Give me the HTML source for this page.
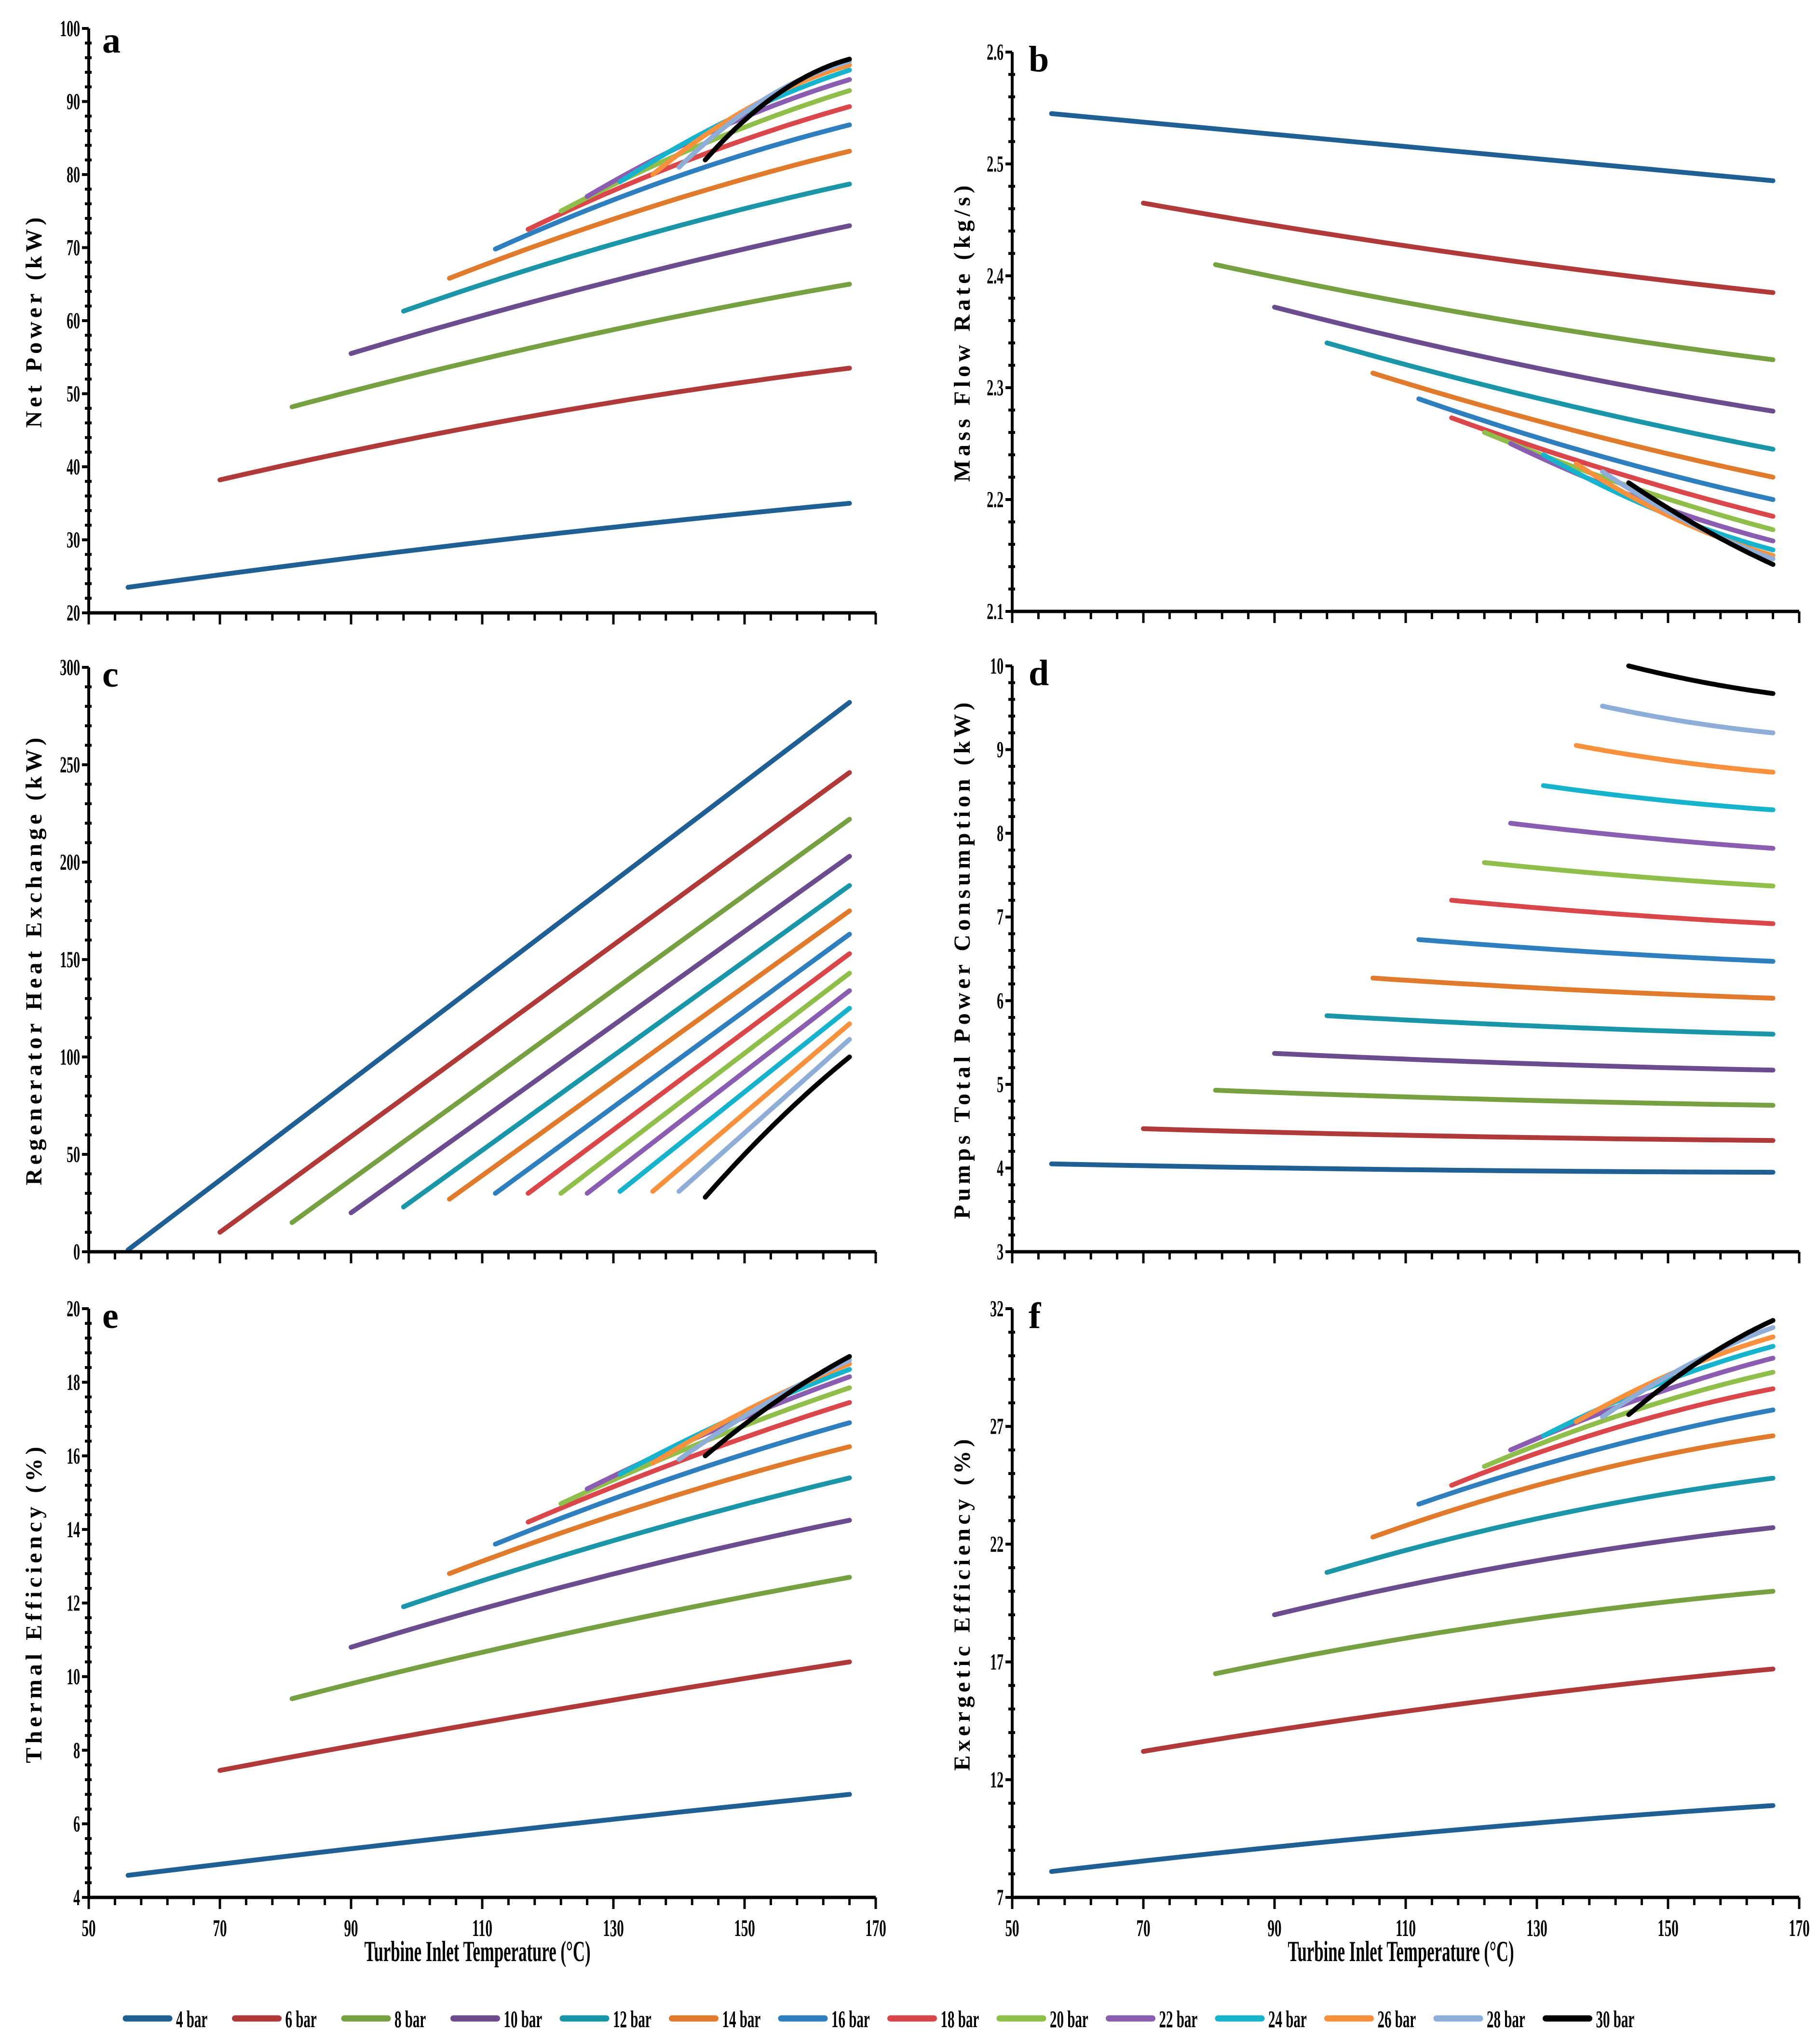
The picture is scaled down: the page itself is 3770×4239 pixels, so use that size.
<!DOCTYPE html>
<html><head><meta charset="utf-8">
<style>
html,body{margin:0;padding:0;background:#fff;}
svg{display:block;}
</style></head>
<body>
<svg id="fig" width="3770" height="4239" viewBox="0 0 3770 4239" xmlns="http://www.w3.org/2000/svg" font-family="'Liberation Serif', serif">
<rect x="0" y="0" width="3770" height="4239" fill="#fff"/>
</svg>
<script>
// ---- shared data ----
const pressures = ["4 bar","6 bar","8 bar","10 bar","12 bar","14 bar","16 bar","18 bar","20 bar","22 bar","24 bar","26 bar","28 bar","30 bar"];
const colors = ["#1f5f94","#b03a3a","#77a043","#6b4d8f","#1b96a8","#e07b2e","#2f7fbf","#d9474a","#8fbf4a","#8a5db0","#17b3cc","#f7913d","#8eaed8","#000000"];
const startT = [56,70,81,90,98,105,112,117,122,126,131,136,140,144];
const endT = 166;
const xTicks = [50,70,90,110,130,150,170];
// values: start, mid, end per pressure
const netPowerStart = [23.5,38.2,48.2,55.5,61.3,65.8,69.8,72.5,75,77,79,80,81,82];
const netPowerMid   = [29.8,47,57.5,65,71,75.5,79.5,82,84.3,86.3,87.9,89.3,90.3,91];
const netPowerEnd   = [35,53.5,65,73,78.7,83.2,86.8,89.3,91.5,93,94.3,95,95.5,95.8];
const flowStart = [2.545,2.465,2.41,2.372,2.34,2.313,2.29,2.273,2.26,2.25,2.24,2.232,2.225,2.215];
const flowMid   = [2.515,2.42,2.362,2.32,2.288,2.262,2.24,2.225,2.212,2.2,2.19,2.183,2.18,2.175];
const flowEnd   = [2.485,2.385,2.325,2.279,2.245,2.22,2.2,2.185,2.173,2.163,2.155,2.15,2.147,2.142];
const regenStart = [1,10,15,20,23,27,30,30,30,30,31,31,31,28];
const regenMid   = [141.5,128,118.5,111.5,105.5,101,96.5,91.5,86.5,82,78,74,70,67];
const regenEnd   = [282,246,222,203,188,175,163,153,143,134,125,117,109,100];
const pumpStart = [4.05,4.47,4.93,5.37,5.82,6.27,6.73,7.2,7.65,8.12,8.57,9.05,9.52,10];
const pumpMid   = [3.98,4.38,4.82,5.25,5.69,6.13,6.58,7.04,7.49,7.95,8.40,8.86,9.33,9.81];
const pumpEnd   = [3.95,4.33,4.75,5.17,5.6,6.03,6.47,6.92,7.37,7.82,8.28,8.73,9.2,9.67];
const thermStart = [4.6,7.45,9.4,10.8,11.9,12.8,13.6,14.2,14.7,15.1,15.5,15.8,15.9,16];
const thermMid   = [5.75,9.0,11.2,12.7,13.8,14.7,15.4,15.95,16.4,16.75,17.05,17.3,17.4,17.5];
const thermEnd   = [6.8,10.4,12.7,14.25,15.4,16.25,16.9,17.45,17.85,18.15,18.35,18.5,18.6,18.7];
const exStart = [8.1,13.2,16.5,19,20.8,22.3,23.7,24.5,25.3,26,26.6,27.2,27.4,27.5];
const exMid   = [9.7,15.2,18.6,21.2,23.2,24.9,26.0,26.9,27.6,28.2,28.8,29.3,29.6,29.8];
const exEnd   = [10.9,16.7,20,22.7,24.8,26.6,27.7,28.6,29.3,29.9,30.4,30.8,31.2,31.5];

const NS="http://www.w3.org/2000/svg";
const svg=document.getElementById('fig');
function mk(tag,attrs,parent){const e=document.createElementNS(NS,tag);for(const k in attrs)e.setAttribute(k,attrs[k]);(parent||svg).appendChild(e);return e;}

const panels=[
 {id:'a',L:184,R:1816,T:59,B:1271,y0:20,y1:100,yt:[20,30,40,50,60,70,80,90,100],title:'Net Power (kW)',tx:70,s:netPowerStart,m:netPowerMid,e:netPowerEnd,xl:false},
 {id:'b',L:2099,R:3731,T:108,B:1268,y0:2.1,y1:2.6,yt:[2.1,2.2,2.3,2.4,2.5,2.6],title:'Mass Flow Rate (kg/s)',tx:1995,s:flowStart,m:flowMid,e:flowEnd,xl:false,dec:1},
 {id:'c',L:184,R:1816,T:1384,B:2596,y0:0,y1:300,yt:[0,50,100,150,200,250,300],title:'Regenerator Heat Exchange (kW)',tx:70,s:regenStart,m:regenMid,e:regenEnd,xl:false},
 {id:'d',L:2099,R:3731,T:1381,B:2596,y0:3,y1:10,yt:[3,4,5,6,7,8,9,10],title:'Pumps Total Power Consumption (kW)',tx:1995,s:pumpStart,m:pumpMid,e:pumpEnd,xl:false},
 {id:'e',L:184,R:1816,T:2714,B:3935,y0:4,y1:20,yt:[4,6,8,10,12,14,16,18,20],title:'Thermal Efficiency (%)',tx:70,s:thermStart,m:thermMid,e:thermEnd,xl:true},
 {id:'f',L:2099,R:3731,T:2714,B:3935,y0:7,y1:32,yt:[7,12,17,22,27,32],title:'Exergetic Efficiency (%)',tx:1995,s:exStart,m:exMid,e:exEnd,xl:true}
];

panels.forEach(p=>{
 const g=mk('g',{});
 
 
 const X=v=>p.L+(v-50)/(170-50)*(p.R-p.L);
 const Y=v=>p.B-(v-p.y0)/(p.y1-p.y0)*(p.B-p.T);
 for(let i=0;i<pressures.length;i++){
   const x0=startT[i], xm=(startT[i]+endT)/2, x2=endT;
   const a=p.s[i], b=p.m[i], c=p.e[i];
   const f=t=>a*(t-xm)*(t-x2)/((x0-xm)*(x0-x2))+b*(t-x0)*(t-x2)/((xm-x0)*(xm-x2))+c*(t-x0)*(t-xm)/((x2-x0)*(x2-xm));
   let d='';
   for(let k=0;k<=40;k++){const t=x0+(x2-x0)*k/40;d+=(k?'L':'M')+X(t).toFixed(1)+' '+Y(f(t)).toFixed(1);}
   const path=mk('path',{d:d,fill:'none',stroke:colors[i],'stroke-width':10,'stroke-linecap':'round'},g);
   
   
 }
 const ax=mk('g',{},g);
 
 
 mk('line',{x1:p.L,y1:p.B,x2:p.R,y2:p.B,stroke:'#000','stroke-width':7},ax);
 mk('line',{x1:p.L,y1:p.T,x2:p.L,y2:p.B,stroke:'#000','stroke-width':6},ax);
 for(let v=50;v<=170;v+=4){const maj=(v-50)%20===0;mk('line',{x1:X(v),y1:p.B,x2:X(v),y2:p.B+(maj?24:16),stroke:'#000','stroke-width':5},ax);}
 const ys=(p.y1-p.y0)/((p.yt.length-1)*5);
 for(let k=0;k<=(p.yt.length-1)*5;k++){const v=p.y0+k*ys;const maj=k%5===0;mk('line',{x1:p.L-(maj?14:8),y1:Y(v),x2:p.L+(maj?0:6),y2:Y(v),stroke:'#000','stroke-width':6},ax);}
 p.yt.forEach(v=>{
   const t=mk('text',{x:0,y:0,'font-size':48,'font-weight':'bold','text-anchor':'end',transform:`translate(${p.L-18},${Y(v)+16}) scale(0.58,1)`},ax);
   t.textContent=p.dec?v.toFixed(1):String(v);
   
   
 });
 if(p.xl){
   xTicks.forEach(v=>{
     const t=mk('text',{x:0,y:0,'font-size':50,'font-weight':'bold','text-anchor':'middle',transform:`translate(${X(v)},${p.B+80}) scale(0.58,1)`},ax);
     t.textContent=String(v);
     
     
   });
   const xt=mk('text',{x:0,y:0,'font-size':60,'font-weight':'bold','text-anchor':'middle',transform:`translate(${(p.L+p.R)/2-10},${p.B+132}) scale(0.58,1)`},g);
   xt.textContent='Turbine Inlet Temperature (°C)';
   
   
 }
 const yt=mk('text',{x:0,y:0,'font-size':48,'font-weight':'bold','letter-spacing':8,'text-anchor':'middle',transform:`translate(${p.tx+16},${(p.T+p.B)/2}) rotate(-90)`},g);
 yt.textContent=p.title;
 
 
 const lt=mk('text',{x:p.L+28,y:p.T+(p.id==='a'?50:40),'font-size':76,'font-weight':'bold'},g);
 if(p.id==='b'||p.id==='d'||p.id==='f'){lt.setAttribute('x',p.L+34);}
 lt.textContent=p.id;
 
 
});

// legend
const lg=mk('g',{});


pressures.forEach((n,i)=>{
 const x=261+i*226.5;
 const e=mk('g',{},lg);
 
 
 mk('line',{x1:x,y1:4186,x2:x+90,y2:4186,stroke:colors[i],'stroke-width':13,'stroke-linecap':'round'},e);
 const t=mk('text',{x:0,y:0,'font-size':50,'font-weight':'bold',transform:`translate(${x+104},${4204}) scale(0.58,1)`},e);
 t.textContent=n;
});
</script>
</body></html>
